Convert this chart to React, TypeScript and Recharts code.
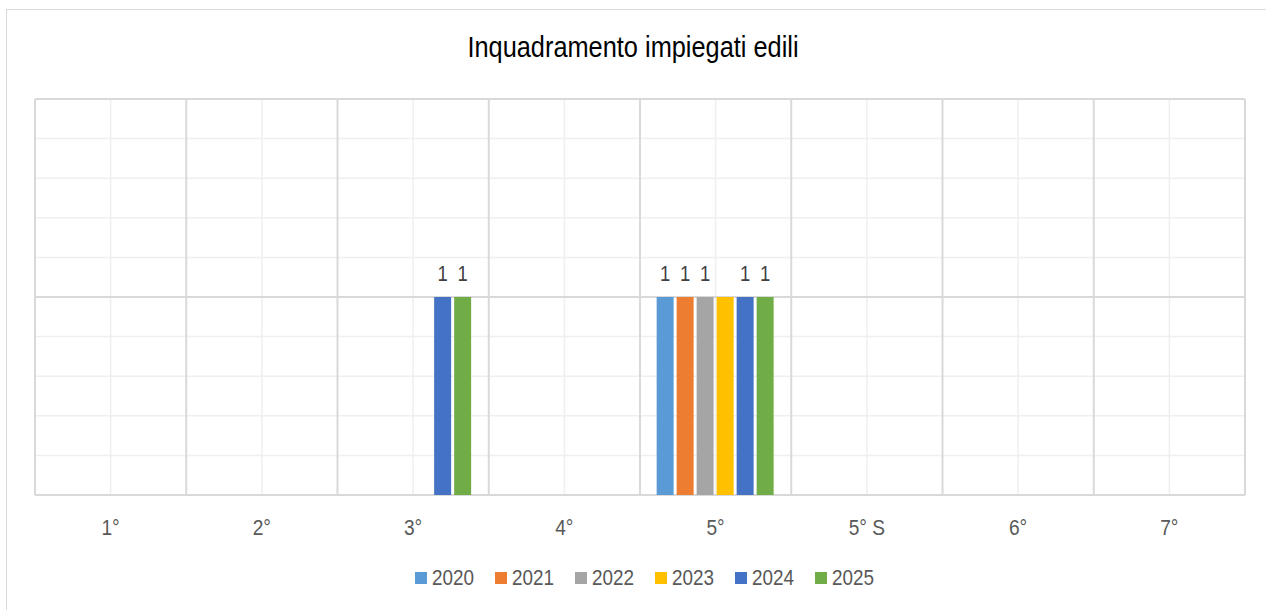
import { BarChart, Bar, XAxis, YAxis, CartesianGrid, LabelList } from 'recharts';

const categories = ['1°', '2°', '3°', '4°', '5°', '5° S', '6°', '7°'];
const years = ['2020', '2021', '2022', '2023', '2024', '2025'];
const colors = ['#5B9BD5', '#ED7D31', '#A5A5A5', '#FFC000', '#4472C4', '#70AD47'];

// values per year, one entry per category (null = empty cell)
const v2020 = [null, null, null, null, 1, null, null, null];
const v2021 = [null, null, null, null, 1, null, null, null];
const v2022 = [null, null, null, null, 1, null, null, null];
const v2023 = [null, null, null, null, 1, null, null, null];
const v2024 = [null, null, 1, null, 1, null, null, null];
const v2025 = [null, null, 1, null, 1, null, null, null];
const seriesValues = [v2020, v2021, v2022, v2023, v2024, v2025];
// the 2023 labels are not visible in the original
const showLabel = [true, true, true, false, true, true];

const yMax = 2;
const minorTicks = [0, 0.2, 0.4, 0.6, 0.8, 1, 1.2, 1.4, 1.6, 1.8, 2];
const majorTicks = [0, 1, 2];
const boundaryTicks = [0, 1, 2, 3, 4, 5, 6, 7, 8];

const data = categories.map((name, i) => {
  const row: Record<string, string | number | null> = { name, idx: i + 0.5 };
  years.forEach((y, s) => {
    row[y] = seriesValues[s][i];
  });
  return row;
});

const font = '"Liberation Sans", Arial, sans-serif';
const narrow = 0.84;

const CategoryTick = (props: any) => {
  const { x, y, payload } = props;
  return (
    <g transform={`translate(${x},${y})`}>
      <text transform={`scale(0.87,1)`} textAnchor="middle" dy={34}
        fill="#595959" fontSize={22} fontFamily={font}>
        {payload.value}
      </text>
    </g>
  );
};

const ValueLabel = (props: any) => {
  const { x, y, width, value } = props;
  if (value == null) return null;
  return (
    <g transform={`translate(${x + width / 2},${y - 16})`}>
      <text transform={`scale(${narrow},1)`} textAnchor="middle"
        fill="#404040" fontSize={22} fontFamily={font}>
        {value}
      </text>
    </g>
  );
};

// major horizontal lines at 0, 1, 2 taken from the plot offset
const majorLines = (props: any) => {
  const scale = props?.yAxis?.scale;
  if (typeof scale === 'function') return majorTicks.map((t) => scale(t));
  const off = props?.offset;
  if (!off) return [];
  return majorTicks.map((t) => off.top + off.height * (1 - t / yMax));
};

const App = () => {
  return (
    <div
      style={{
        position: 'absolute',
        left: 6,
        top: 9,
        width: 1300,
        height: 640,
        borderLeft: '1px solid #d9d9d9',
        borderTop: '1px solid #d9d9d9',
        background: '#fff',
      }}
    >
      <div
        style={{
          position: 'absolute',
          top: 22,
          left: 0,
          width: 1252,
          textAlign: 'center',
          fontFamily: font,
          fontSize: 30,
          lineHeight: '30px',
          color: '#000',
          transform: 'scaleX(0.845)',
          transformOrigin: 'center',
        }}
      >
        Inquadramento impiegati edili
      </div>
      <BarChart
        width={1259}
        height={600}
        data={data}
        margin={{ top: 89, right: 21, bottom: 85, left: 28 }}
        barGap={3}
        barCategoryGap="11%"
      >
        <XAxis xAxisId="band" dataKey="name" axisLine={false} tickLine={false}
          tick={<CategoryTick />} tickMargin={0} height={30} />
        <XAxis xAxisId="num" type="number" dataKey="idx" domain={[0, 8]} ticks={boundaryTicks} hide />
        <YAxis domain={[0, yMax]} ticks={minorTicks} hide />
        <CartesianGrid xAxisId="band" stroke="#efefef" strokeWidth={1.5} />
        <CartesianGrid xAxisId="num" stroke="#d9d9d9" strokeWidth={2}
          horizontalCoordinatesGenerator={majorLines} />
        {years.map((y, i) => (
          <Bar key={y} dataKey={y} xAxisId="band" fill={colors[i]} isAnimationActive={false}>
            {showLabel[i] && <LabelList dataKey={y} content={<ValueLabel />} />}
          </Bar>
        ))}
      </BarChart>
      <div
        style={{
          position: 'absolute',
          left: 408,
          top: 557,
          height: 22,
          display: 'flex',
          alignItems: 'center',
          fontFamily: font,
          fontSize: 22,
          lineHeight: '22px',
          color: '#595959',
        }}
      >
        {years.map((y, i) => (
          <div key={y} style={{ display: 'flex', alignItems: 'center', width: 80 }}>
            <span style={{ width: 12, height: 12, background: colors[i], marginRight: 5, display: 'inline-block' }} />
            <span style={{ display: 'inline-block', transform: 'scaleX(0.86)', transformOrigin: 'left' }}>{y}</span>
          </div>
        ))}
      </div>
    </div>
  );
};

export default App;
